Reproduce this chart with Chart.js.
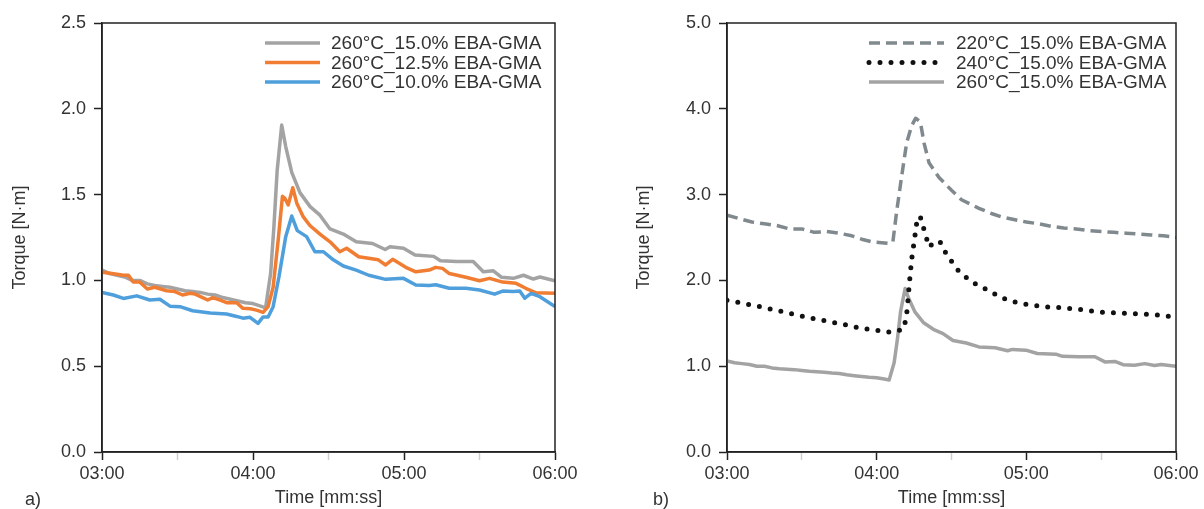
<!DOCTYPE html>
<html>
<head>
<meta charset="utf-8">
<title>Torque vs time</title>
<script src="https://cdn.jsdelivr.net/npm/chart.js@4.4.1/dist/chart.umd.min.js"></script>
<style>
  html, body { margin: 0; padding: 0; background: #fff; }
  .row { display: flex; width: 1204px; height: 509px; }
  .panel { position: relative; width: 602px; height: 509px; }
</style>
</head>
<body>
<div class="row">
  <div class="panel"><canvas id="chartA"></canvas></div>
  <div class="panel"><canvas id="chartB"></canvas></div>
</div>
<script>
// time in seconds after 03:00, torque in N·m

// a) 260°C, different EBA-GMA content
const gray15Time = [0, 3, 6, 9, 12, 15, 18, 21, 24, 27, 30, 33, 36, 39, 42, 45, 48, 51, 54, 57, 60, 63, 65, 67, 68.3, 69.6, 71.4, 73, 75.4, 78.7, 82.7, 86.6, 90.6, 95.9, 101, 107.5, 112.5, 114.4, 119.8, 124.4, 131.8, 134.5, 141, 147.5, 151.5, 155.5, 158.8, 163.4, 167.5, 171.4, 174, 180];
const gray15Torque = [1.06, 1.04, 1.03, 1.02, 1.00, 1.00, 0.98, 0.97, 0.965, 0.96, 0.95, 0.94, 0.935, 0.93, 0.92, 0.915, 0.90, 0.89, 0.88, 0.87, 0.865, 0.85, 0.84, 1.04, 1.31, 1.64, 1.905, 1.78, 1.63, 1.51, 1.43, 1.38, 1.30, 1.27, 1.225, 1.215, 1.18, 1.196, 1.187, 1.148, 1.14, 1.115, 1.11, 1.11, 1.05, 1.056, 1.018, 1.012, 1.03, 1.008, 1.02, 0.998];

const orange125Time = [0, 4, 8.5, 10.5, 12.4, 15, 16.5, 18, 21, 25.7, 29, 32, 35, 37, 40, 42, 44, 47, 49.5, 53.5, 56, 59, 61.4, 64, 66, 68, 70, 71.7, 72.6, 74, 75.8, 77.4, 80, 82.6, 86.6, 90.6, 94.5, 97.2, 102, 109.8, 112.7, 115.5, 120.7, 124.7, 130, 132.6, 135.3, 138, 144.6, 150, 154, 159.2, 164.5, 168.4, 172.5, 180];
const orange125Torque = [1.047, 1.04, 1.03, 1.03, 0.99, 0.99, 0.97, 0.95, 0.96, 0.94, 0.935, 0.915, 0.925, 0.92, 0.90, 0.886, 0.90, 0.885, 0.87, 0.87, 0.837, 0.835, 0.827, 0.814, 0.847, 0.96, 1.235, 1.49, 1.48, 1.44, 1.54, 1.45, 1.37, 1.32, 1.27, 1.225, 1.167, 1.187, 1.138, 1.12, 1.09, 1.123, 1.076, 1.05, 1.06, 1.076, 1.07, 1.04, 1.018, 0.998, 1.012, 0.99, 0.983, 0.954, 0.928, 0.925];

const blue10Time = [0, 4.5, 8.5, 13.8, 19, 23, 27, 31, 36, 43, 49.5, 53.5, 56, 58.8, 62, 64, 66, 68, 70.3, 73, 75.4, 77.6, 81.3, 84.6, 88, 91.9, 95.9, 101, 106, 112.7, 119.8, 124.7, 130, 132.6, 138, 144.6, 150, 156, 159.2, 163.4, 166, 168, 170.5, 174, 180];
const blue10Torque = [0.93, 0.915, 0.895, 0.91, 0.886, 0.89, 0.85, 0.847, 0.823, 0.81, 0.804, 0.79, 0.78, 0.785, 0.75, 0.787, 0.787, 0.847, 1.02, 1.255, 1.375, 1.29, 1.255, 1.167, 1.167, 1.12, 1.084, 1.06, 1.03, 1.006, 1.012, 0.973, 0.97, 0.975, 0.954, 0.954, 0.944, 0.92, 0.938, 0.935, 0.938, 0.896, 0.925, 0.905, 0.847];

// b) 15.0% EBA-GMA, different temperatures (260°C reuses the gray curve)
const t220Time = [0, 5, 10, 15, 20, 25, 30, 35, 40, 45, 50, 54, 58, 62, 65, 66.5, 68, 70, 72, 74, 75.6, 77.5, 79, 81, 85, 90, 94, 101, 106, 110, 115, 120, 125, 130, 135, 140, 145, 150, 155, 160, 165, 170, 175, 180];
const t220Torque = [2.76, 2.72, 2.68, 2.66, 2.64, 2.60, 2.60, 2.56, 2.57, 2.55, 2.52, 2.48, 2.45, 2.44, 2.43, 2.45, 2.8, 3.21, 3.6, 3.8, 3.89, 3.85, 3.6, 3.37, 3.2, 3.05, 2.94, 2.84, 2.78, 2.74, 2.71, 2.68, 2.66, 2.63, 2.61, 2.60, 2.58, 2.57, 2.56, 2.55, 2.54, 2.53, 2.52, 2.50];

const t240Time = [0, 7, 14, 20, 27.5, 34, 41, 48, 54, 60, 64, 67.6, 71, 72.2, 73, 74, 75.4, 76, 77.4, 78.6, 81, 83.7, 85.7, 87.7, 92.2, 95.7, 99, 105, 110, 115, 120, 128, 135, 142, 150, 158, 165, 172, 180];
const t240Torque = [1.77, 1.73, 1.69, 1.65, 1.60, 1.56, 1.52, 1.48, 1.44, 1.42, 1.40, 1.40, 1.44, 1.65, 1.93, 2.24, 2.53, 2.66, 2.75, 2.63, 2.39, 2.46, 2.44, 2.32, 2.13, 2.04, 1.97, 1.88, 1.80, 1.75, 1.72, 1.69, 1.68, 1.66, 1.63, 1.62, 1.61, 1.60, 1.57];

const leftYTicks = [0, 0.5, 1.0, 1.5, 2.0, 2.5];
const rightYTicks = [0, 1, 2, 3, 4, 5];
const startSec = 180; // 03:00
const endSec = 360;   // 06:00

const FONT = "'Liberation Sans', Arial, sans-serif";
Chart.defaults.font.family = FONT;
Chart.defaults.font.size = 18;
Chart.defaults.color = '#333';

function points(times, values) {
    return times.map((t, i) => ({ x: startSec + t, y: values[i] }));
}

function mmss(v) {
    const m = Math.floor(v / 60), s = v % 60;
    return String(m).padStart(2, '0') + ':' + String(s).padStart(2, '0');
}

// box around the plot, panel letter and in-plot legend
const framePlugin = {
    id: 'frame',
    afterDraw(chart, args, opts) {
        const { ctx, chartArea: a } = chart;
        ctx.save();
        ctx.strokeStyle = '#222';
        ctx.lineWidth = 1.5;
        ctx.strokeRect(a.left, a.top, a.right - a.left, a.bottom - a.top);

        ctx.fillStyle = '#333';
        ctx.font = '18px ' + FONT;
        ctx.textBaseline = 'middle';
        ctx.fillText(opts.panel, opts.panelX, 500);

        ctx.font = '19px ' + FONT;
        chart.data.datasets.forEach((ds, i) => {
            const y = opts.legendY + i * opts.legendGap;
            ctx.strokeStyle = ds.borderColor;
            ctx.lineWidth = ds.borderWidth;
            ctx.setLineDash(ds.borderDash || []);
            ctx.lineCap = ds.borderCapStyle || 'butt';
            ctx.beginPath();
            ctx.moveTo(opts.lineX0, y);
            ctx.lineTo(opts.lineX1, y);
            ctx.stroke();
            ctx.setLineDash([]);
            ctx.fillText(ds.label, opts.textX, y + 1);
        });
        ctx.restore();
    }
};

function makeOptions(yMax, yStep, yWidth, titlePad, padRight, frame) {
    return {
        responsive: true,
        maintainAspectRatio: false,
        animation: false,
        layout: { padding: { left: 0, top: 23, right: padRight, bottom: 0 } },
        elements: { point: { radius: 0 }, line: { tension: 0, borderJoinStyle: 'round' } },
        plugins: { legend: { display: false }, tooltip: { enabled: false }, frame: frame },
        scales: {
            x: {
                type: 'linear',
                min: startSec,
                max: endSec,
                afterFit: s => { s.height = 57; },
                ticks: {
                    stepSize: 30,
                    autoSkip: false,
                    maxRotation: 0,
                    padding: 3,
                    color: '#333',
                    callback: v => (v % 60 === 0 ? mmss(v) : '')
                },
                grid: {
                    drawOnChartArea: false,
                    tickLength: 8,
                    tickWidth: 1.5,
                    tickColor: c => (c.tick && c.tick.value % 60 === 0 ? '#222' : '#d0d0d0')
                },
                border: { color: '#222', width: 1.5 },
                title: { display: true, text: 'Time [mm:ss]', color: '#333', padding: { top: 0, bottom: 0 } }
            },
            y: {
                min: 0,
                max: yMax,
                afterFit: s => { s.width = yWidth; },
                ticks: { stepSize: yStep, padding: 8, color: '#333', callback: v => v.toFixed(1) },
                grid: { drawOnChartArea: false, tickLength: 8, tickWidth: 1.5, tickColor: '#222' },
                border: { color: '#222', width: 1.5 },
                title: { display: true, text: 'Torque [N·m]', color: '#333', padding: { top: titlePad, bottom: 0 } }
            }
        }
    };
}

new Chart(document.getElementById('chartA'), {
    type: 'line',
    data: {
        datasets: [
            { label: '260°C_15.0% EBA-GMA', data: points(gray15Time, gray15Torque), borderColor: '#a3a3a3', borderWidth: 3.5, order: 3 },
            { label: '260°C_12.5% EBA-GMA', data: points(orange125Time, orange125Torque), borderColor: '#f07d32', borderWidth: 3.5, order: 2 },
            { label: '260°C_10.0% EBA-GMA', data: points(blue10Time, blue10Torque), borderColor: '#4f9fdc', borderWidth: 3.5, order: 1 }
        ]
    },
    options: makeOptions(leftYTicks[leftYTicks.length - 1], leftYTicks[1] - leftYTicks[0], 102, 9, 47,
        { panel: 'a)', panelX: 25, legendY: 43, legendGap: 19.5, lineX0: 265, lineX1: 320, textX: 331 }),
    plugins: [framePlugin]
});

new Chart(document.getElementById('chartB'), {
    type: 'line',
    data: {
        datasets: [
            { label: '220°C_15.0% EBA-GMA', data: points(t220Time, t220Torque), borderColor: '#80898e', borderWidth: 3.5, borderDash: [11, 6], order: 3 },
            { label: '240°C_15.0% EBA-GMA', data: points(t240Time, t240Torque), borderColor: '#111', borderWidth: 5, borderDash: [0, 11], borderCapStyle: 'round', order: 1 },
            { label: '260°C_15.0% EBA-GMA', data: points(gray15Time, gray15Torque), borderColor: '#a3a3a3', borderWidth: 3.5, order: 2 }
        ]
    },
    options: makeOptions(rightYTicks[rightYTicks.length - 1], rightYTicks[1] - rightYTicks[0], 125, 31, 28,
        { panel: 'b)', panelX: 51, legendY: 43, legendGap: 19.5, lineX0: 267, lineX1: 342, textX: 354 }),
    plugins: [framePlugin]
});
</script>
</body>
</html>
